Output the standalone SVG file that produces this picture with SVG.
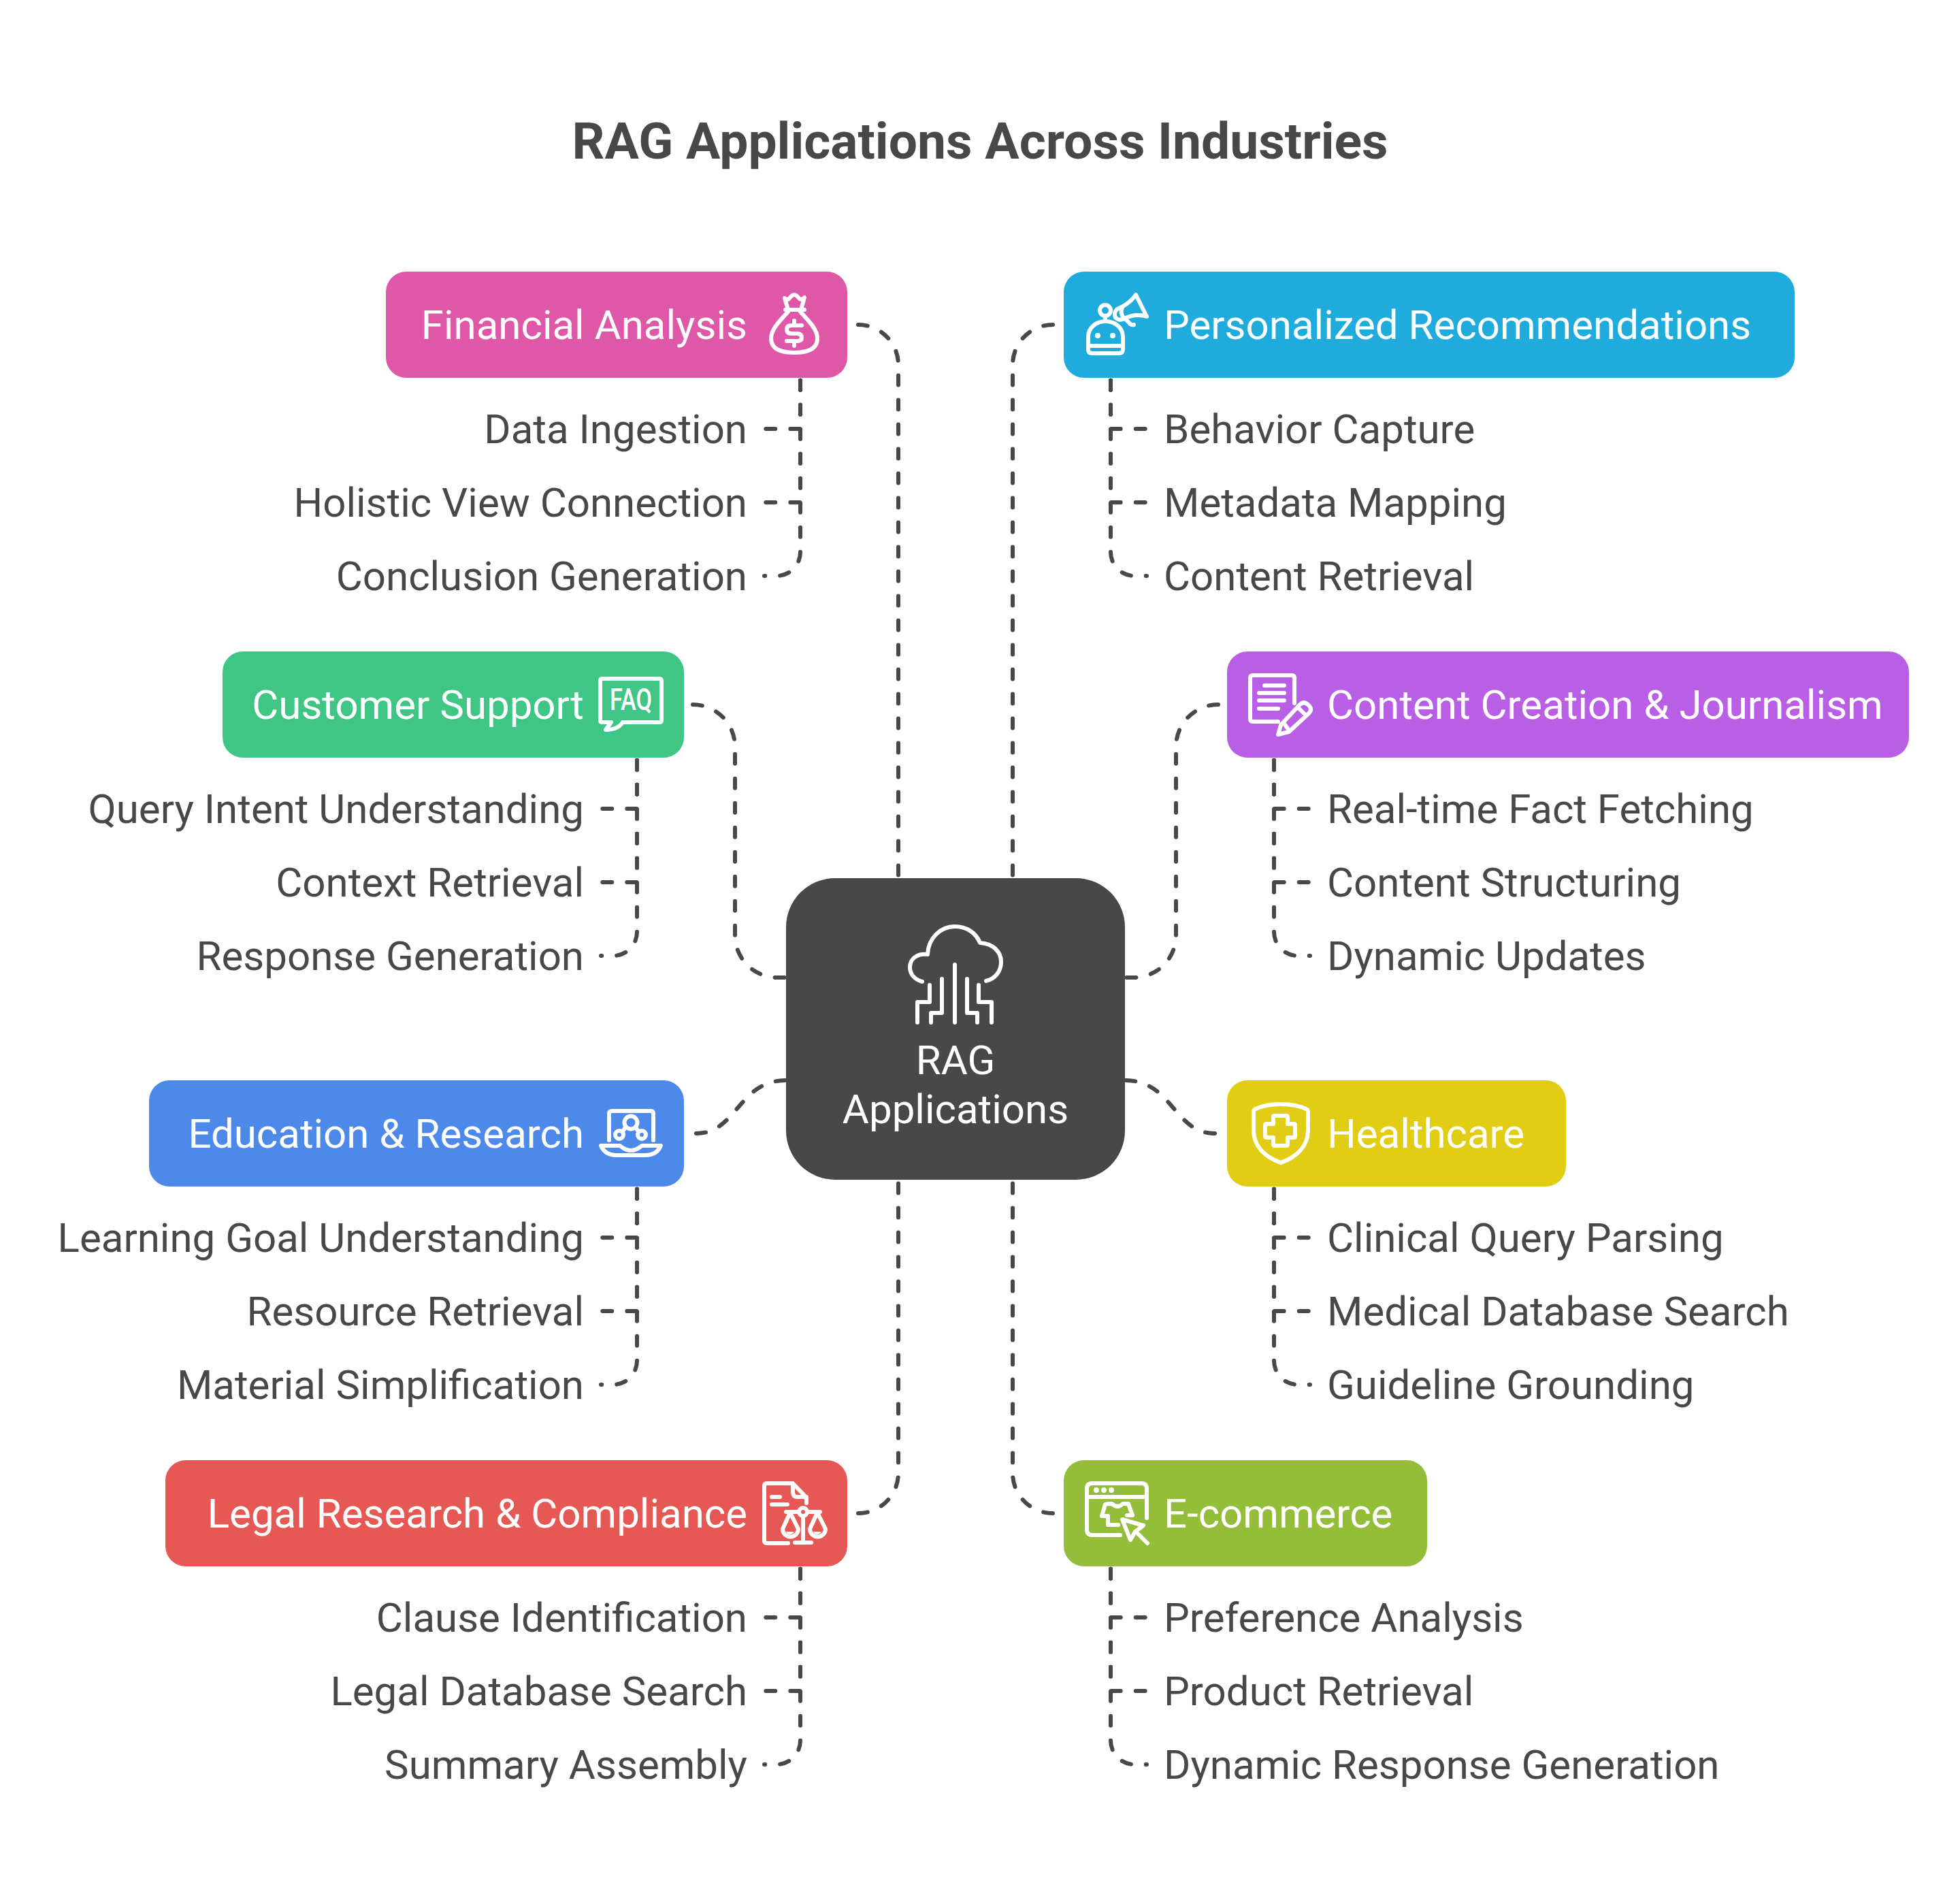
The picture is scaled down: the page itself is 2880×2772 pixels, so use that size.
<svg xmlns="http://www.w3.org/2000/svg" width="2880" height="2772" viewBox="0 0 2880 2772">
<style>
text{font-family:Roboto,"Liberation Sans",sans-serif;font-size:60px}
.title{font-size:75px;font-weight:700;fill:#484848;text-anchor:middle}
.lab{fill:#fff}
.c{text-anchor:middle}
.sub{fill:#484848}
.e{text-anchor:end}
.ln{fill:none;stroke:#484848;stroke-width:6;stroke-linecap:round;stroke-linejoin:round;stroke-dasharray:14 22}
.ic{fill:none;stroke:#fff;stroke-width:6;stroke-linecap:round;stroke-linejoin:round}
.dot{fill:#fff;stroke:none}
</style>
<rect width="2880" height="2772" fill="#fff"/>
<text id="title" class="title" x="1440" y="233">RAG Applications Across Industries</text>
<g id="connectors">
<path class="ln" d="M1261 477A59 59 0 0 1 1320 536V1290"/>
<path class="ln" d="M1547 477A59 59 0 0 0 1488 536V1290"/>
<path class="ln" d="M1018 1035A62 62 0 0 1 1080 1097V1374A62 62 0 0 0 1142 1436H1155"/>
<path class="ln" d="M1790 1035A62 62 0 0 0 1728 1097V1374A62 62 0 0 1 1666 1436H1653"/>
<path class="ln" d="M1023 1665C1083 1665 1085 1587 1155 1587"/>
<path class="ln" d="M1785 1665C1725 1665 1723 1587 1653 1587"/>
<path class="ln" d="M1261 2223A59 59 0 0 0 1320 2164V1733"/>
<path class="ln" d="M1547 2223A59 59 0 0 1 1488 2164V1733"/>
<g id="branches-financial"><path class="ln" d="M1176 558.7V630H1123"/><path class="ln" d="M1176 558.7V738H1123"/><path class="ln" d="M1176 558.7V811A35 35 0 0 1 1141 846H1123"/></g>
<g id="branches-personalized"><path class="ln" d="M1632 558.7V630H1685"/><path class="ln" d="M1632 558.7V738H1685"/><path class="ln" d="M1632 558.7V811A35 35 0 0 0 1667 846H1685"/></g>
<g id="branches-customer"><path class="ln" d="M936 1116.7V1188H883"/><path class="ln" d="M936 1116.7V1296H883"/><path class="ln" d="M936 1116.7V1369A35 35 0 0 1 901 1404H883"/></g>
<g id="branches-content"><path class="ln" d="M1872 1116.7V1188H1925"/><path class="ln" d="M1872 1116.7V1296H1925"/><path class="ln" d="M1872 1116.7V1369A35 35 0 0 0 1907 1404H1925"/></g>
<g id="branches-education"><path class="ln" d="M936 1746.7V1818H883"/><path class="ln" d="M936 1746.7V1926H883"/><path class="ln" d="M936 1746.7V1999A35 35 0 0 1 901 2034H883"/></g>
<g id="branches-healthcare"><path class="ln" d="M1872 1746.7V1818H1925"/><path class="ln" d="M1872 1746.7V1926H1925"/><path class="ln" d="M1872 1746.7V1999A35 35 0 0 0 1907 2034H1925"/></g>
<g id="branches-legal"><path class="ln" d="M1176 2304.7V2376H1123"/><path class="ln" d="M1176 2304.7V2484H1123"/><path class="ln" d="M1176 2304.7V2557A35 35 0 0 1 1141 2592H1123"/></g>
<g id="branches-ecommerce"><path class="ln" d="M1632 2304.7V2376H1685"/><path class="ln" d="M1632 2304.7V2484H1685"/><path class="ln" d="M1632 2304.7V2557A35 35 0 0 0 1667 2592H1685"/></g>
</g>
<g id="center">
<rect x="1155" y="1290" width="498" height="443" rx="72" ry="72" fill="#484848"/>
<g class="ic"><path d="M1449 1441C1462 1438 1471 1427 1471 1413C1471 1398 1459 1386 1440 1385C1434 1370 1420 1361 1403 1361C1382 1361 1364 1378 1363 1402C1347 1400 1337 1409 1337 1421C1337 1431 1344 1439 1355 1442"/><path d="M1403 1417V1502M1384 1438V1488H1368V1502M1421 1438V1488H1436V1502M1366 1447V1472H1348V1502M1438 1447V1472H1457V1502"/></g>
<text class="lab c" x="1404" y="1578">RAG</text><text class="lab c" x="1404" y="1650">Applications</text>
</g>
<g id="financial">
<rect x="567" y="399" width="678" height="156" rx="30" fill="#DF57A7"/>
<text class="lab e" x="1098" y="498">Financial Analysis</text>
<g class="ic"><path d="M1158 455L1153 438Q1158 442 1160 438Q1164 433 1167 433Q1170 433 1174 438Q1177 442 1182 437L1177 455M1154 455H1182"/><path d="M1158 458C1145 472 1133 484 1133 497C1133 513 1148 518 1167 518C1186 518 1201 513 1201 497C1201 484 1189 472 1176 458"/><path d="M1167 471V478M1167 501V508M1178 478H1163Q1156 478 1156 484Q1156 490 1163 490H1171Q1178 490 1178 496Q1178 501 1171 501H1156"/></g>
<text class="sub e" x="1098" y="651">Data Ingestion</text><text class="sub e" x="1098" y="759">Holistic View Connection</text><text class="sub e" x="1098" y="867">Conclusion Generation</text>
</g>
<g id="personalized">
<rect x="1563" y="399" width="1074" height="156" rx="30" fill="#1FABDB"/>
<text class="lab" x="1710" y="498">Personalized Recommendations</text>
<g class="ic"><circle cx="1624" cy="456" r="8"/><path d="M1624 464V472M1599 495C1599 480 1612 472 1624.500 472C1637 472 1650 480 1650 495V513Q1650 519 1644 519H1605Q1599 519 1599 513ZM1599 508H1650"/><path d="M1669 433L1685 465C1672 461 1662 463 1652 468C1644 472 1637 468 1638 460C1639 454 1644 453 1650 450C1657 446 1664 440 1669 433ZM1649 452Q1645 460 1652 468M1654 469L1659 474Q1662 478 1666 477"/></g>
<circle class="dot" cx="1613" cy="493" r="4"/><circle class="dot" cx="1635" cy="493" r="4"/>
<text class="sub" x="1710" y="651">Behavior Capture</text><text class="sub" x="1710" y="759">Metadata Mapping</text><text class="sub" x="1710" y="867">Content Retrieval</text>
</g>
<g id="customer">
<rect x="327" y="957" width="678" height="156" rx="30" fill="#3FC584"/>
<text class="lab e" x="858" y="1056">Customer Support</text>
<path class="ic" d="M915 1061H969Q972 1061 972 1058V1000Q972 997 969 997H885Q882 997 882 1000V1058Q882 1061 885 1061H898L890 1072Q908 1072 915 1061Z"/>
<text class="lab" x="896" y="1043" style="font-size:44px;font-weight:500" textLength="62" lengthAdjust="spacingAndGlyphs">FAQ</text>
<text class="sub e" x="858" y="1209">Query Intent Understanding</text><text class="sub e" x="858" y="1317">Context Retrieval</text><text class="sub e" x="858" y="1425">Response Generation</text>
</g>
<g id="content">
<rect x="1803" y="957" width="1002" height="156" rx="30" fill="#B85FE5"/>
<text class="lab" x="1950" y="1056">Content Creation &amp; Journalism</text>
<path class="ic" d="M1902 1033V996Q1902 992 1898 992H1841Q1837 992 1837 996V1056Q1837 1060 1841 1060H1878M1858 1007H1887M1850 1018H1887M1850 1029H1887M1850 1041H1878M1878 1079L1882 1065L1910 1035Q1916 1029 1923 1036Q1929 1042 1923 1048L1894 1075ZM1908 1040L1918 1050M1887 1063L1892 1070"/>
<text class="sub" x="1950" y="1209">Real-time Fact Fetching</text><text class="sub" x="1950" y="1317">Content Structuring</text><text class="sub" x="1950" y="1425">Dynamic Updates</text>
</g>
<g id="education">
<rect x="219" y="1587" width="786" height="156" rx="30" fill="#4C89E8"/>
<text class="lab e" x="858" y="1686">Education &amp; Research</text>
<g class="ic"><path d="M895 1675V1636Q895 1632 899 1632H956Q960 1632 960 1636V1675"/><circle cx="927" cy="1649" r="9.500"/><circle cx="910" cy="1667" r="6"/><circle cx="943" cy="1667" r="6"/><path d="M915 1662L919 1656M938 1662L934 1656M883 1683H911Q927 1697 943 1683H971Q965 1697 948 1697H906Q889 1697 883 1683Z"/></g>
<text class="sub e" x="858" y="1839">Learning Goal Understanding</text><text class="sub e" x="858" y="1947">Resource Retrieval</text><text class="sub e" x="858" y="2055">Material Simplification</text>
</g>
<g id="healthcare">
<rect x="1803" y="1587" width="498" height="156" rx="30" fill="#E0CD14"/>
<text class="lab" x="1950" y="1686">Healthcare</text>
<path class="ic" d="M1882 1622Q1860 1622 1845 1629Q1842 1630 1842 1634V1660C1842 1685 1860 1700 1882 1708C1904 1700 1922 1685 1922 1660V1634Q1922 1630 1919 1629Q1904 1622 1882 1622ZM1873 1639H1890Q1892 1639 1892 1641V1651H1901Q1903 1651 1903 1653V1669Q1903 1671 1901 1671H1892V1681Q1892 1683 1890 1683H1873Q1871 1683 1871 1681V1671H1861Q1859 1671 1859 1669V1653Q1859 1651 1861 1651H1871V1641Q1871 1639 1873 1639Z"/>
<text class="sub" x="1950" y="1839">Clinical Query Parsing</text><text class="sub" x="1950" y="1947">Medical Database Search</text><text class="sub" x="1950" y="2055">Guideline Grounding</text>
</g>
<g id="legal">
<rect x="243" y="2145" width="1002" height="156" rx="30" fill="#E55854"/>
<text class="lab e" x="1098" y="2244">Legal Research &amp; Compliance</text>
<g class="ic"><path d="M1158 2267H1127Q1123 2267 1123 2263V2183Q1123 2179 1127 2179H1165L1185 2200V2208M1165 2180V2192Q1165 2199 1172 2199H1185M1134 2199H1146M1134 2210H1157"/><path d="M1155 2221H1174M1186 2221H1205M1180 2227V2266M1168 2266H1192"/><circle cx="1180" cy="2221" r="6"/><path d="M1161 2222L1150 2246A11.500 11.500 0 0 0 1173 2246ZM1201 2222L1190 2246A11.500 11.500 0 0 0 1213 2246Z"/></g>
<path class="dot" d="M1155 2250H1167Q1165 2254 1161 2254Q1157 2254 1155 2250ZM1195 2250H1207Q1205 2254 1201 2254Q1197 2254 1195 2250Z"/>
<text class="sub e" x="1098" y="2397">Clause Identification</text><text class="sub e" x="1098" y="2505">Legal Database Search</text><text class="sub e" x="1098" y="2613">Summary Assembly</text>
</g>
<g id="ecommerce">
<rect x="1563" y="2145" width="534" height="156" rx="30" fill="#94BD3A"/>
<text class="lab" x="1710" y="2244">E-commerce</text>
<g class="ic"><path d="M1685 2230V2187Q1685 2179 1677 2179H1605Q1597 2179 1597 2187V2247Q1597 2255 1605 2255H1646M1597 2199H1685"/><path d="M1643 2240H1628V2227H1619L1624 2210Q1624 2209 1634 2209Q1642 2217 1650 2209H1658L1664 2226H1656"/><path d="M1649 2232L1680 2241L1668 2250L1661 2262ZM1670 2251L1686 2267"/></g>
<circle class="dot" cx="1611" cy="2189" r="4"/><circle class="dot" cx="1622" cy="2189" r="4"/><circle class="dot" cx="1633" cy="2189" r="4"/>
<text class="sub" x="1710" y="2397">Preference Analysis</text><text class="sub" x="1710" y="2505">Product Retrieval</text><text class="sub" x="1710" y="2613">Dynamic Response Generation</text>
</g>
</svg>
